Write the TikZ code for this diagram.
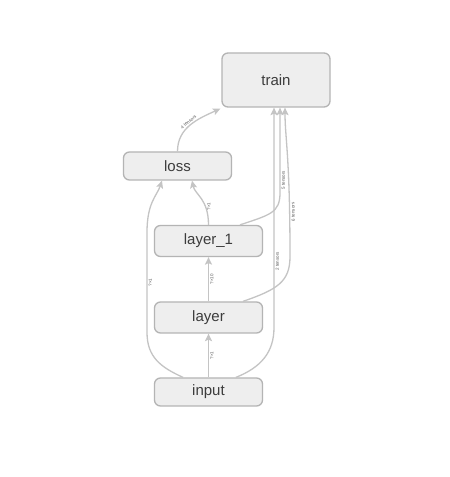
\documentclass[tikz,border=0pt]{standalone}
\usepackage{fontspec}
\setmainfont{Liberation Sans}
\usetikzlibrary{arrows.meta}

\definecolor{boxfill}{HTML}{EEEEEE}
\definecolor{boxline}{HTML}{B4B4B4}
\definecolor{edgeline}{HTML}{C4C4C4}
\definecolor{optext}{HTML}{3C3C3C}
\definecolor{dimtext}{HTML}{5A5A5A}

\begin{document}
\begin{tikzpicture}[x=1pt, y=1pt,
  op/.style={draw=boxline, fill=boxfill, rounded corners=6pt, line width=1.3pt,
    minimum width=108pt, inner sep=0pt, text=optext,
    font=\fontsize{15}{17}\selectfont},
  flow/.style={draw=edgeline, line width=1.3pt,
    -{Stealth[length=7.5pt, width=7pt, inset=1.5pt]}},
  dim/.style={font=\fontsize{4.5}{5}\selectfont, text=dimtext, sloped,
    allow upside down, inner sep=1.2pt}]

  \useasboundingbox[fill=white] (0,0) rectangle (450,477);

  % Ops
  \node[op, minimum height=54pt] (train)  at (276,397)   {train};
  \node[op, minimum height=28pt] (loss)   at (177.5,311) {loss};
  \node[op, minimum height=31pt] (layer1) at (208.5,236) {layer\_1};
  \node[op, minimum height=31pt] (layer)  at (208.5,159.5) {layer};
  \node[op, minimum height=28pt] (input)  at (208.5,85)  {input};

  % Main chain
  \draw[flow] (input) -- node[dim, below] {?×1} (layer);
  \draw[flow] (layer) -- node[dim, below] {?×10} (layer1);
  \draw[flow] (layer1.north) .. controls +(0,26) and +(3,-14) ..
    node[dim, sloped=false, rotate=90, below, pos=0.3] {?×1} ([xshift=14.5pt]loss.south);

  % Skip from input to loss
  \draw[flow] ([xshift=-25.5pt]input.north) .. controls +(-22,10) and +(0,-25) .. ++(-36,45)
    -- node[dim, below] {?×1} ++(0,100)
    .. controls +(0,30) and +(-5,-15) .. ([xshift=-15.5pt]loss.south);

  % Tensors to train
  \draw[flow] (loss.north) .. controls +(0,24) and +(-22,-10) ..
    node[dim, above, pos=0.5] {4 tensors} ([xshift=-1pt,yshift=-1pt]train.south west);
  \draw[flow] ([xshift=27.5pt]input.north) .. controls +(25,10) and +(0,-25) .. ++(38,50)
    -- node[dim, below, pos=0.3] {2 tensors} ([xshift=-2pt]train.south);
  \draw[flow] ([xshift=31.5pt]layer1.north) .. controls +(30,10) and +(0,-20) .. ++(40,32)
    -- node[dim, below, pos=0.15] {5 tensors} ([xshift=4pt]train.south);
  \draw[flow] ([xshift=34.5pt]layer.north) .. controls +(35,12) and +(0,-25) .. ++(47,45)
    .. controls +(0,100) and +(0,-30) .. node[dim, below, pos=0.17] {6 tensors}
    ([xshift=9pt]train.south);

\end{tikzpicture}
\end{document}
